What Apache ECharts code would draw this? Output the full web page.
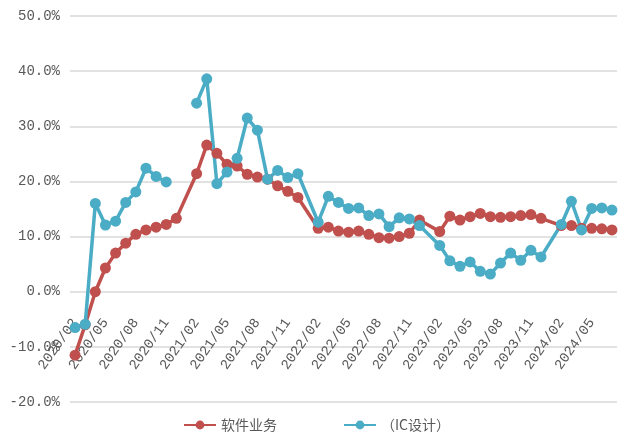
<!DOCTYPE html>
<html>
<head>
<meta charset="utf-8">
<script src="https://cdn.jsdelivr.net/npm/echarts@6/dist/echarts.min.js"></script>
<style>
  html, body { margin: 0; padding: 0; background: #fff; }
  #chart { width: 618px; height: 439px; }
</style>
</head>
<body>
<div id="chart"></div>
<script>
// months 2020/02 .. 2024/07
var months = [];
for (var y = 2020; y <= 2024; y++) {
  for (var m = 1; m <= 12; m++) {
    if ((y === 2020 && m < 2) || (y === 2024 && m > 7)) continue;
    months.push(y + '/' + (m < 10 ? '0' + m : m));
  }
}

// null = no value for that month
var software = [
  -11.5, -6.0, 0.0, 4.3, 7.0, 8.8, 10.4, 11.2, 11.7, 12.2, 13.3, null,
  21.4, 26.6, 25.1, 23.1, 22.8, 21.3, 20.8, 20.4, 19.2, 18.2, 17.1, null,
  11.5, 11.7, 11.0, 10.8, 11.0, 10.4, 9.8, 9.7, 10.0, 10.6, 13.0, null,
  10.9, 13.7, 13.0, 13.6, 14.2, 13.6, 13.5, 13.6, 13.8, 14.0, 13.3, null,
  12.0, 12.0, 11.5, 11.5, 11.4, 11.2
];
var icDesign = [
  -6.5, -5.9, 16.0, 12.1, 12.8, 16.2, 18.1, 22.4, 20.9, 19.9, null, null,
  34.2, 38.6, 19.6, 21.7, 24.2, 31.5, 29.3, 20.4, 22.0, 20.7, 21.4, null,
  12.6, 17.3, 16.2, 15.1, 15.2, 13.8, 14.1, 11.8, 13.4, 13.2, 12.0, null,
  8.4, 5.6, 4.6, 5.4, 3.7, 3.2, 5.2, 7.0, 5.7, 7.5, 6.3, null,
  12.2, 16.4, 11.2, 15.1, 15.2, 14.8
];
var yTicks = [-20, -10, 0, 10, 20, 30, 40, 50];

// January has no release: skip it (line connects); other gaps break the line
function toPairs(arr) {
  var out = [];
  arr.forEach(function (v, i) {
    if (v === null) {
      if (months[i].slice(5) === '01') return;
      out.push([i, '-']);
    } else {
      out.push([i, v]);
    }
  });
  return out;
}

var labelColor = '#595959';
var labelFont = 'Liberation Mono';

var myChart = echarts.init(document.getElementById('chart'));
myChart.setOption({
  animation: false,
  grid: {
    left: 70,
    right: 1,
    top: 16,
    bottom: 37,
    containLabel: false,
    outerBoundsMode: 'none'
  },
  legend: {
    bottom: 2,
    left: 178,
    itemGap: 66,
    itemWidth: 32,
    itemHeight: 11,
    textStyle: {
      color: labelColor,
      fontSize: 14,
      fontFamily: 'Noto Sans CJK SC'
    },
    data: ['软件业务', '（IC设计）']
  },
  xAxis: {
    type: 'category',
    boundaryGap: true,
    data: months,
    // labels sit below the 0% line, not at the bottom of the plot
    offset: -110,
    axisLine: { show: false, onZero: false },
    axisTick: { show: false },
    axisLabel: {
      interval: 2,
      rotate: 55,
      margin: 28,
      color: labelColor,
      fontSize: 14,
      fontFamily: labelFont
    }
  },
  yAxis: {
    type: 'value',
    min: yTicks[0],
    max: yTicks[yTicks.length - 1],
    interval: 10,
    axisLine: { show: false },
    axisTick: { show: false },
    axisLabel: {
      margin: 10,
      color: labelColor,
      fontSize: 14,
      fontFamily: labelFont,
      formatter: function (v) { return v.toFixed(1) + '%'; }
    },
    splitLine: {
      lineStyle: { color: '#d9d9d9', width: 1.5 }
    }
  },
  series: [
    {
      name: '软件业务',
      type: 'line',
      data: toPairs(software),
      symbol: 'circle',
      symbolSize: 11,
      showAllSymbol: true,
      lineStyle: { width: 3.5, color: '#c0504d' },
      itemStyle: { color: '#c0504d' }
    },
    {
      name: '（IC设计）',
      type: 'line',
      data: toPairs(icDesign),
      symbol: 'circle',
      symbolSize: 11,
      showAllSymbol: true,
      lineStyle: { width: 3.5, color: '#4bacc6' },
      itemStyle: { color: '#4bacc6' }
    }
  ]
});
</script>
</body>
</html>
